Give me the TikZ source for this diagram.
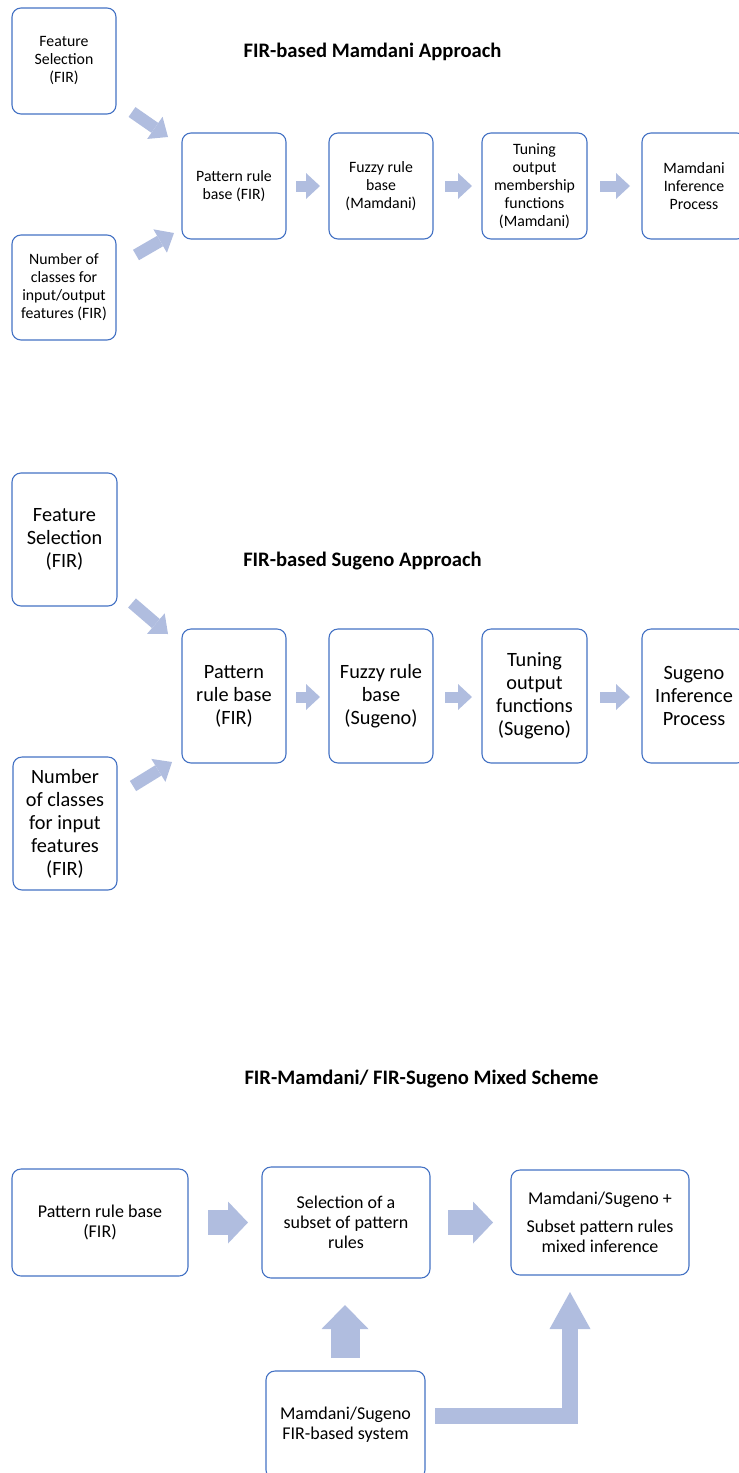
\documentclass[tikz,border=0pt]{standalone}
\usepackage{fontspec}
\setmainfont{Carlito}
\usetikzlibrary{arrows.meta}

\definecolor{boxline}{RGB}{68,114,196}
\definecolor{arrowfill}{RGB}{176,189,223}

\begin{document}
\begin{tikzpicture}[x=1pt,y=-1pt,
  box/.style={draw=boxline, line width=1.1pt, rounded corners=9pt, align=center,
    inner sep=0pt, fill=white},
  txtA/.style={font=\fontsize{15.8}{18}\selectfont},
  txtB/.style={font=\fontsize{20.3}{23}\selectfont},
  txtC/.style={font=\fontsize{18}{20}\selectfont},
  heading/.style={font=\fontsize{20.6}{24}\selectfont\bfseries, anchor=base},
  flowarrow/.style={draw=arrowfill, line width=11pt,
    -{Triangle[length=14pt,width=26pt,line width=0pt]}},
  slantarrow/.style={draw=arrowfill, line width=12pt,
    -{Triangle[length=16pt,width=27pt,line width=0pt]}},
  fatarrow/.style={draw=arrowfill, line width=25pt,
    -{Triangle[length=20pt,width=42pt,line width=0pt]}},
]
\useasboundingbox (0,0) rectangle (739,1473);
\clip (0,0) rectangle (739,1473);

% ---------- FIR-based Mamdani approach ----------
\node[heading] (tA) at (372.5,57) {FIR-based Mamdani Approach};

\node[box, txtA, minimum width=104pt, minimum height=106pt] (fsA) at (64,61)
  {Feature\\Selection\\(FIR)};
\node[box, txtA, minimum width=104pt, minimum height=105pt] (ncA) at (64,287.5)
  {Number of\\classes for\\input/output\\features (FIR)};
\node[box, txtA, minimum width=104pt, minimum height=106pt] (prA) at (234,186)
  {Pattern rule\\base (FIR)};
\node[box, txtA, minimum width=104pt, minimum height=106pt] (fuA) at (381,186)
  {Fuzzy rule\\base\\(Mamdani)};
\node[box, txtA, minimum width=105pt, minimum height=106pt] (tuA) at (534.5,186)
  {Tuning\\output\\membership\\functions\\(Mamdani)};
\node[box, txtA, minimum width=104pt, minimum height=106pt] (miA) at (694,186)
  {Mamdani\\Inference\\Process};

\coordinate (a1s) at (132,112);  \coordinate (a1e) at (168,137);
\coordinate (a2s) at (136,255);  \coordinate (a2e) at (174,233);
\coordinate (a3s) at (296,186);  \coordinate (a3e) at (320,186);
\coordinate (a4s) at (445,186);  \coordinate (a4e) at (472,186);
\coordinate (a5s) at (600,186);  \coordinate (a5e) at (630,186);
\draw[slantarrow] (a1s) -- (a1e);
\draw[slantarrow] (a2s) -- (a2e);
\draw[flowarrow] (a3s) -- (a3e);
\draw[flowarrow] (a4s) -- (a4e);
\draw[flowarrow] (a5s) -- (a5e);

% ---------- FIR-based Sugeno approach ----------
\node[heading] (tB) at (362.5,566) {FIR-based Sugeno Approach};

\node[box, txtB, minimum width=105pt, minimum height=133pt] (fsB) at (64.5,539.5)
  {Feature\\Selection\\(FIR)};
\node[box, txtB, minimum width=104pt, minimum height=133pt] (ncB) at (65,823.5)
  {Number\\of classes\\for input\\features\\(FIR)};
\node[box, txtB, minimum width=104pt, minimum height=134pt] (prB) at (234,696)
  {Pattern\\rule base\\(FIR)};
\node[box, txtB, minimum width=104pt, minimum height=134pt] (fuB) at (381,696)
  {Fuzzy rule\\base\\(Sugeno)};
\node[box, txtB, minimum width=105pt, minimum height=134pt] (tuB) at (534.5,696)
  {Tuning\\output\\functions\\(Sugeno)};
\node[box, txtB, minimum width=104pt, minimum height=134pt] (siB) at (694,696)
  {Sugeno\\Inference\\Process};

\coordinate (b1s) at (132,603);  \coordinate (b1e) at (168,634);
\coordinate (b2s) at (133,786);  \coordinate (b2e) at (172,762);
\coordinate (b3s) at (296,697);  \coordinate (b3e) at (320,697);
\coordinate (b4s) at (445,697);  \coordinate (b4e) at (472,697);
\coordinate (b5s) at (600,697);  \coordinate (b5e) at (630,697);
\draw[slantarrow] (b1s) -- (b1e);
\draw[slantarrow] (b2s) -- (b2e);
\draw[flowarrow] (b3s) -- (b3e);
\draw[flowarrow] (b4s) -- (b4e);
\draw[flowarrow] (b5s) -- (b5e);

% ---------- mixed scheme ----------
\node[heading] (tC) at (421.5,1084) {FIR-Mamdani/ FIR-Sugeno Mixed Scheme};

\node[box, txtC, minimum width=176pt, minimum height=107pt] (prC) at (100,1222.5)
  {Pattern rule base\\(FIR)};
\node[box, txtC, minimum width=168pt, minimum height=111pt] (seC) at (346,1222.5)
  {Selection of a\\subset of pattern\\rules};
\node[box, txtC, minimum width=178pt, minimum height=105pt] (mxC) at (600,1222.5)
  {Mamdani/Sugeno +\\[8pt]Subset pattern rules\\mixed inference};
\node[box, txtC, minimum width=159pt, minimum height=108pt] (fbC) at (345.5,1425)
  {Mamdani/Sugeno\\FIR-based system};

\coordinate (c1s) at (208,1222.5);  \coordinate (c1e) at (248,1222.5);
\coordinate (c2s) at (448,1222.5);  \coordinate (c2e) at (493,1222.5);
\coordinate (c3s) at (345,1358);    \coordinate (c3e) at (345,1305);
\coordinate (c4s) at (435,1416);    \coordinate (c4m) at (570,1416);
\coordinate (c4e) at (570,1292);
\draw[fatarrow] (c1s) -- (c1e);
\draw[fatarrow] (c2s) -- (c2e);
\draw[draw=arrowfill, line width=29pt,
  -{Triangle[length=24pt,width=47pt,line width=0pt]}] (c3s) -- (c3e);
\draw[draw=arrowfill, line width=16pt, line join=miter,
  -{Triangle[length=37pt,width=41pt,line width=0pt]}] (c4s) -- (c4m) -- (c4e);
\end{tikzpicture}
\end{document}
